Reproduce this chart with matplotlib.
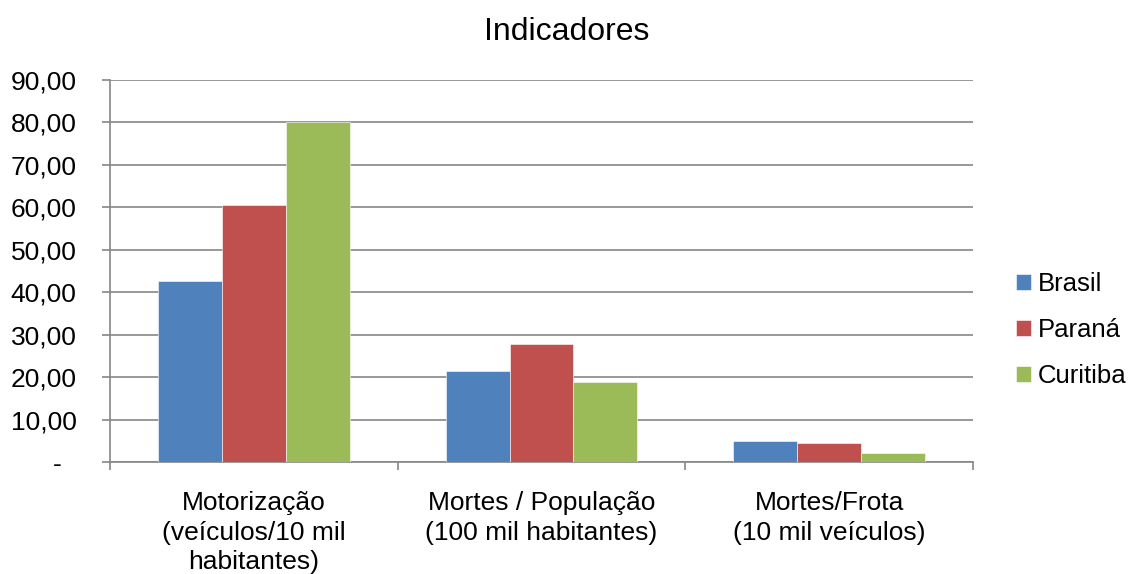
import numpy as np
import matplotlib.pyplot as plt
from matplotlib.ticker import FixedLocator, FuncFormatter

plt.rcParams['font.family'] = ['Liberation Sans', 'DejaVu Sans']

categories = ['Motorização\n(veículos/10 mil\nhabitantes)',
              'Mortes / População\n(100 mil habitantes)',
              'Mortes/Frota\n(10 mil veículos)']
series = ['Brasil', 'Paraná', 'Curitiba']
brasil = [42.6, 21.5, 4.9]
parana = [60.5, 27.7, 4.4]
curitiba = [80.1, 18.9, 2.2]
colors = ['#4F81BD', '#C0504D', '#9BBB59']

fig = plt.figure(figsize=(11.28, 5.74), dpi=100)
ax = fig.add_axes([0.0975, 0.195, 0.765, 0.666])

x = np.arange(len(categories))
w = 0.222
for i, (vals, name, c) in enumerate(zip([brasil, parana, curitiba], series, colors)):
    ax.bar(x + (i - 1) * w, vals, w, color=c, label=name,
           edgecolor='white', linewidth=0.4, zorder=3)

ax.set_xlim(-0.5, len(categories) - 0.5)
ax.set_ylim(0, 90)
ax.set_yticks(np.arange(0, 91, 10))

def fmt(v, pos):
    # accounting style: zero shows as a dash
    if v == 0:
        return '-  '
    return f'{v:.2f}'.replace('.', ',')

ax.yaxis.set_major_formatter(FuncFormatter(fmt))
ax.grid(axis='y', color='#868686', linewidth=1.2, zorder=0)

# category labels sit between the boundary tick marks
ax.set_xticks(x)
ax.set_xticklabels(categories, fontsize=19, linespacing=1.28)
ax.xaxis.set_minor_locator(FixedLocator(np.arange(-0.5, len(categories), 1)))
ax.tick_params(axis='x', which='major', length=0, pad=21)
ax.tick_params(axis='x', which='minor', length=6, width=1.2, color='#868686')
ax.tick_params(axis='y', length=6, width=1.2, color='#868686', labelsize=19, pad=18)

for s in ['top', 'right']:
    ax.spines[s].set_visible(False)
for s in ['left', 'bottom']:
    ax.spines[s].set_color('#868686')
    ax.spines[s].set_linewidth(1.2)

fig.text(0.502, 0.945, 'Indicadores', ha='center', va='center', fontsize=23)

ax.legend(loc='center left', bbox_to_anchor=(1.029, 0.345), frameon=False,
          fontsize=18.5, handlelength=0.6, handleheight=0.6, handletextpad=0.25,
          labelspacing=0.85, borderaxespad=0.3)

fig.savefig('out.png', dpi=100)
